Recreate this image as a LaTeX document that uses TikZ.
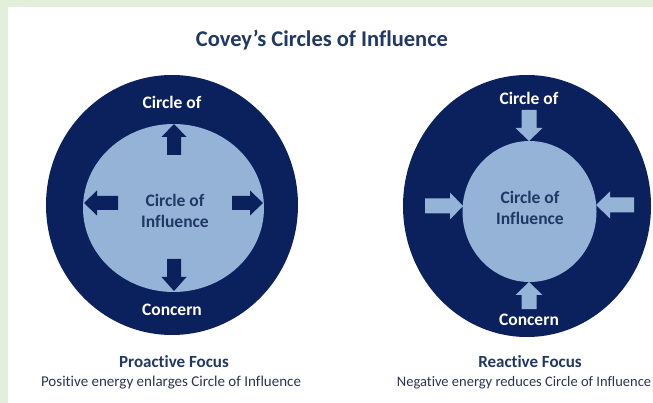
\documentclass[tikz,border=0pt]{standalone}
\usepackage{fontspec}
\setmainfont{Carlito}[Ligatures=NoCommon]
\definecolor{navy}{HTML}{0A215E}
\definecolor{lightblue}{HTML}{95B3D7}
\definecolor{bggreen}{HTML}{E3EFDB}
\definecolor{txtnavy}{HTML}{1F3864}
\definecolor{subgray}{HTML}{2B3550}
\begin{document}
\begin{tikzpicture}[x=1pt,y=-1pt,
  lbl/.style={anchor=base,inner sep=0pt,font=\fontsize{17.5}{20}\selectfont\bfseries},
  outerlbl/.style={lbl,text=white},
  innerlbl/.style={lbl,text=txtnavy},
  caphead/.style={anchor=base,inner sep=0pt,text=txtnavy,font=\fontsize{17}{20}\selectfont\bfseries},
  capsub/.style={anchor=base,inner sep=0pt,text=subgray,font=\fontsize{15}{18}\selectfont}]
\useasboundingbox (0,0) rectangle (653,403);
\fill[bggreen] (0,0) rectangle (653,403);
\fill[white] (8,7) rectangle (653,403);
% title
\node[anchor=base,inner sep=0pt,text=txtnavy,font=\fontsize{22.5}{26}\selectfont\bfseries] (title) at (322,47) {Covey’s Circles of Influence};
% left diagram
\fill[navy] (172,205) ellipse [x radius=126, y radius=130];
\fill[lightblue] (173.5,208) ellipse [x radius=90.5, y radius=84];
\fill[navy] (167,155) -- (167,137) -- (161.5,137) -- (174,124) -- (186.5,137) -- (181,137) -- (181,155) -- cycle;
\fill[navy] (167,259) -- (167,277) -- (161.5,277) -- (174,291) -- (186.5,277) -- (181,277) -- (181,259) -- cycle;
\fill[navy] (118,196) -- (97,196) -- (97,190.5) -- (84,203) -- (97,215.5) -- (97,210) -- (118,210) -- cycle;
\fill[navy] (232,196) -- (250,196) -- (250,190.5) -- (263,203) -- (250,215.5) -- (250,210) -- (232,210) -- cycle;
\node[outerlbl] (ltop) at (172,109) {Circle of};
\node[outerlbl] (lbot) at (172,315) {Concern};
\node[innerlbl] (lin1) at (175,207) {Circle of};
\node[innerlbl] (lin2) at (175,228) {Influence};
% right diagram
\fill[navy] (527,206) ellipse [x radius=124, y radius=131];
\fill[lightblue] (529.5,211.5) ellipse [x radius=67, y radius=70.5];
\fill[lightblue] (521.5,110) -- (521.5,128) -- (515.5,128) -- (529,141) -- (542.5,128) -- (536.5,128) -- (536.5,110) -- cycle;
\fill[lightblue] (521.5,309) -- (521.5,295) -- (515.5,295) -- (529,282) -- (542.5,295) -- (536.5,295) -- (536.5,309) -- cycle;
\fill[lightblue] (425,198.5) -- (450,198.5) -- (450,192.5) -- (463,206) -- (450,219.5) -- (450,213.5) -- (425,213.5) -- cycle;
\fill[lightblue] (634,197.5) -- (610,197.5) -- (610,191.5) -- (596,205) -- (610,218.5) -- (610,212.5) -- (634,212.5) -- cycle;
\node[outerlbl] (rtop) at (529,105) {Circle of};
\node[outerlbl] (rbot) at (529,325) {Concern};
\node[innerlbl] (rin1) at (530,204) {Circle of};
\node[innerlbl] (rin2) at (530,225) {Influence};
% captions
\node[caphead] (lcap) at (174,367) {Proactive Focus};
\node[capsub] (lsub) at (171,386) {Positive energy enlarges Circle of Influence};
\node[caphead] (rcap) at (530,367) {Reactive Focus};
\node[capsub,font=\fontsize{14.5}{18}\selectfont] (rsub) at (524,386) {Negative energy reduces Circle of Influence};
\end{tikzpicture}
\end{document}
